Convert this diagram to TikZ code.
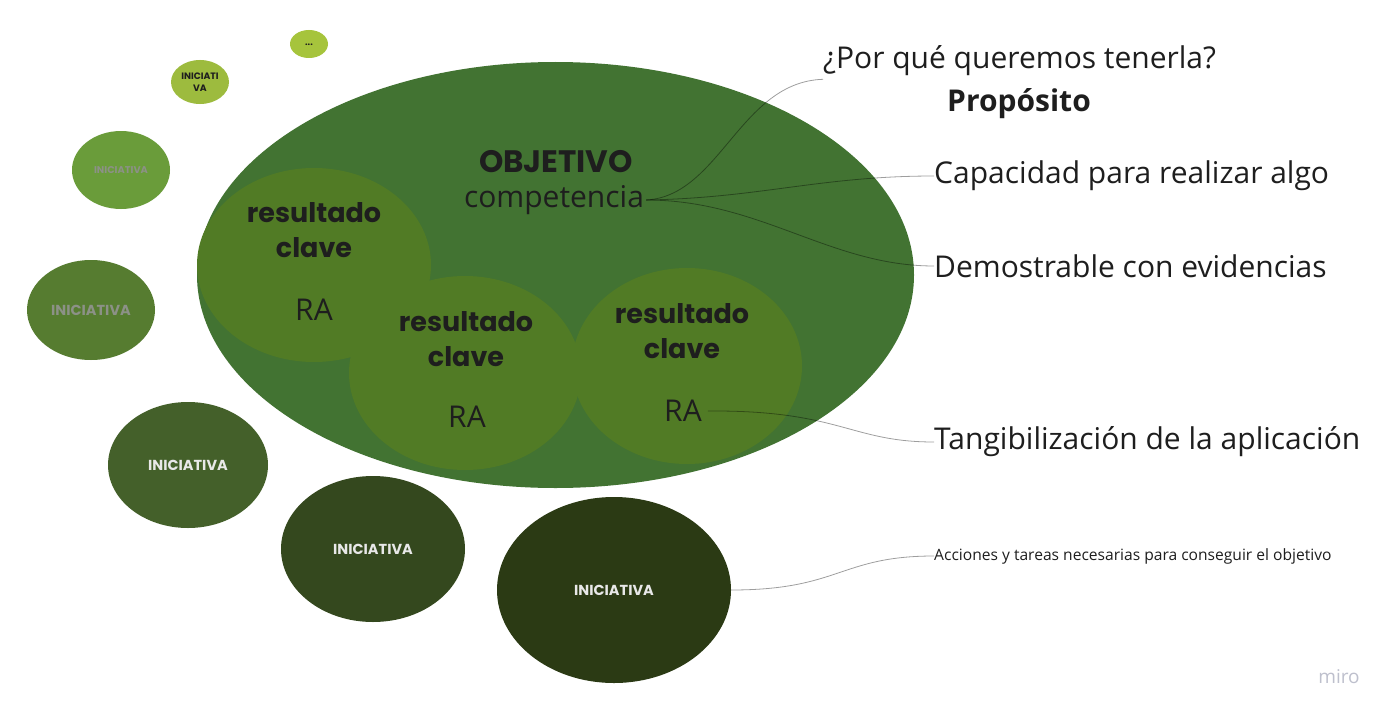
\documentclass[tikz,border=0pt]{standalone}
\usepackage{fontspec}
\setmainfont{Open Sans}
\newfontfamily\pop{Poppins}
\usetikzlibrary{shapes.geometric}
\definecolor{bigc}{RGB}{66,115,50}
\definecolor{resc}{RGB}{81,123,37}
\definecolor{ia}{RGB}{166,196,60}
\definecolor{ib}{RGB}{157,187,62}
\definecolor{ic}{RGB}{106,156,58}
\definecolor{id}{RGB}{86,124,48}
\definecolor{ie}{RGB}{68,96,42}
\definecolor{if}{RGB}{52,72,30}
\definecolor{ig}{RGB}{43,58,20}
\definecolor{txt}{RGB}{30,30,30}
\definecolor{grtx}{RGB}{140,145,135}
\definecolor{wtx}{RGB}{232,232,232}
\definecolor{mirogray}{RGB}{190,192,205}
\begin{document}
\begin{tikzpicture}[x=1pt,y=-1pt,
  blob/.style={ellipse,inner sep=0pt,draw=none},
  lbl/.style={inner sep=0pt,text=txt,font=\fontsize{30}{33}\selectfont},
  rk/.style={inner sep=0pt,text=txt,font=\pop\bfseries\fontsize{27}{30}\selectfont},
  ini/.style={inner sep=0pt,font=\pop\bfseries\fontsize{14.5}{16}\selectfont},
  conn/.style={draw=black,draw opacity=0.38,line width=0.8pt}
]
\useasboundingbox[fill=white] (0,0) rectangle (1394,717);
% big objective ellipse
\node[blob,fill=bigc,minimum width=717pt,minimum height=426pt] (obj) at (555.5,275) {};
% key results
\node[blob,fill=resc,minimum width=234pt,minimum height=194pt] (r1) at (314,265) {};
\node[blob,fill=resc,minimum width=232pt,minimum height=194pt] (r2) at (465,373) {};
\node[blob,fill=resc,minimum width=230pt,minimum height=196pt] (r3) at (687,366) {};
% initiatives
\node[blob,fill=ia,minimum width=38pt,minimum height=28pt] (i1) at (309,44) {};
\node[blob,fill=ib,minimum width=58pt,minimum height=44pt] (i2) at (200,82) {};
\node[blob,fill=ic,minimum width=98pt,minimum height=78pt] (i3) at (121,170) {};
\node[blob,fill=id,minimum width=128pt,minimum height=100pt] (i4) at (91,310) {};
\node[blob,fill=ie,minimum width=160pt,minimum height=126pt] (i5) at (188,465) {};
\node[blob,fill=if,minimum width=184pt,minimum height=146pt] (i6) at (373,549) {};
\node[blob,fill=ig,minimum width=234pt,minimum height=186pt] (i7) at (614,590) {};
% initiative texts
\node[ini,text=txt,font=\pop\bfseries\fontsize{9}{10}\selectfont] (t1) at (309,45) {...};
\node[ini,text=txt,align=center,font=\pop\bfseries\fontsize{9.3}{12}\selectfont] (t2) at (200,82) {INICIATI\\VA};
\node[ini,text=grtx,font=\pop\bfseries\fontsize{9.8}{11}\selectfont] (t3) at (121,170) {INICIATIVA};
\node[ini,text=grtx] (t4) at (91,310) {INICIATIVA};
\node[ini,text=wtx] (t5) at (188,465) {INICIATIVA};
\node[ini,text=wtx] (t6) at (373,549) {INICIATIVA};
\node[ini,text=wtx] (t7) at (614,590) {INICIATIVA};
% objective texts
\node[rk,font=\pop\bfseries\fontsize{31}{33}\selectfont] (objt) at (556,162) {OBJETIVO};
\node[lbl] (comp) at (554,200) {competencia};
% key result texts
\node[rk] (r1a) at (314,213) {resultado};
\node[rk] (r1b) at (314,248) {clave};
\node[lbl] (r1c) at (314,310) {RA};
\node[rk] (r2a) at (466,322) {resultado};
\node[rk] (r2b) at (466,357) {clave};
\node[lbl] (r2c) at (467,417) {RA};
\node[rk] (r3a) at (682,314) {resultado};
\node[rk] (r3b) at (682,349) {clave};
\node[lbl] (r3c) at (683,411) {RA};
% right side labels
\node[lbl,anchor=west] (por) at (823,61) {¿Por qué queremos tenerla?};
\node[lbl,font=\bfseries\fontsize{30}{33}\selectfont] (prop) at (1019,104) {Propósito};
\node[lbl,anchor=west] (cap) at (934,176) {Capacidad para realizar algo};
\node[lbl,anchor=west] (dem) at (934,266) {Demostrable con evidencias};
\node[lbl,anchor=west] (tan) at (934,442) {Tangibilización de la aplicación};
\node[lbl,anchor=west,font=\fontsize{15.6}{18}\selectfont] (acc) at (934,556) {Acciones y tareas necesarias para conseguir el objetivo};
\node[inner sep=0pt,text=mirogray,font=\fontsize{19}{21}\selectfont] (miro) at (1339,677) {miro};
% connectors
\draw[conn] ([xshift=2pt]comp.east) .. controls (720,196) and (740,82) .. ([yshift=-3pt]por.south west);
\draw[conn] ([xshift=2pt]comp.east) .. controls (760,198) and (820,176) .. (cap.west);
\draw[conn] ([xshift=2pt]comp.east) .. controls (760,200) and (830,266) .. (dem.west);
\draw[conn] ([xshift=6pt]r3c.east) .. controls (840,410) and (850,442) .. (tan.west);
\draw[conn] (i7.east) .. controls (840,590) and (840,556) .. (acc.west);
\end{tikzpicture}
\end{document}
